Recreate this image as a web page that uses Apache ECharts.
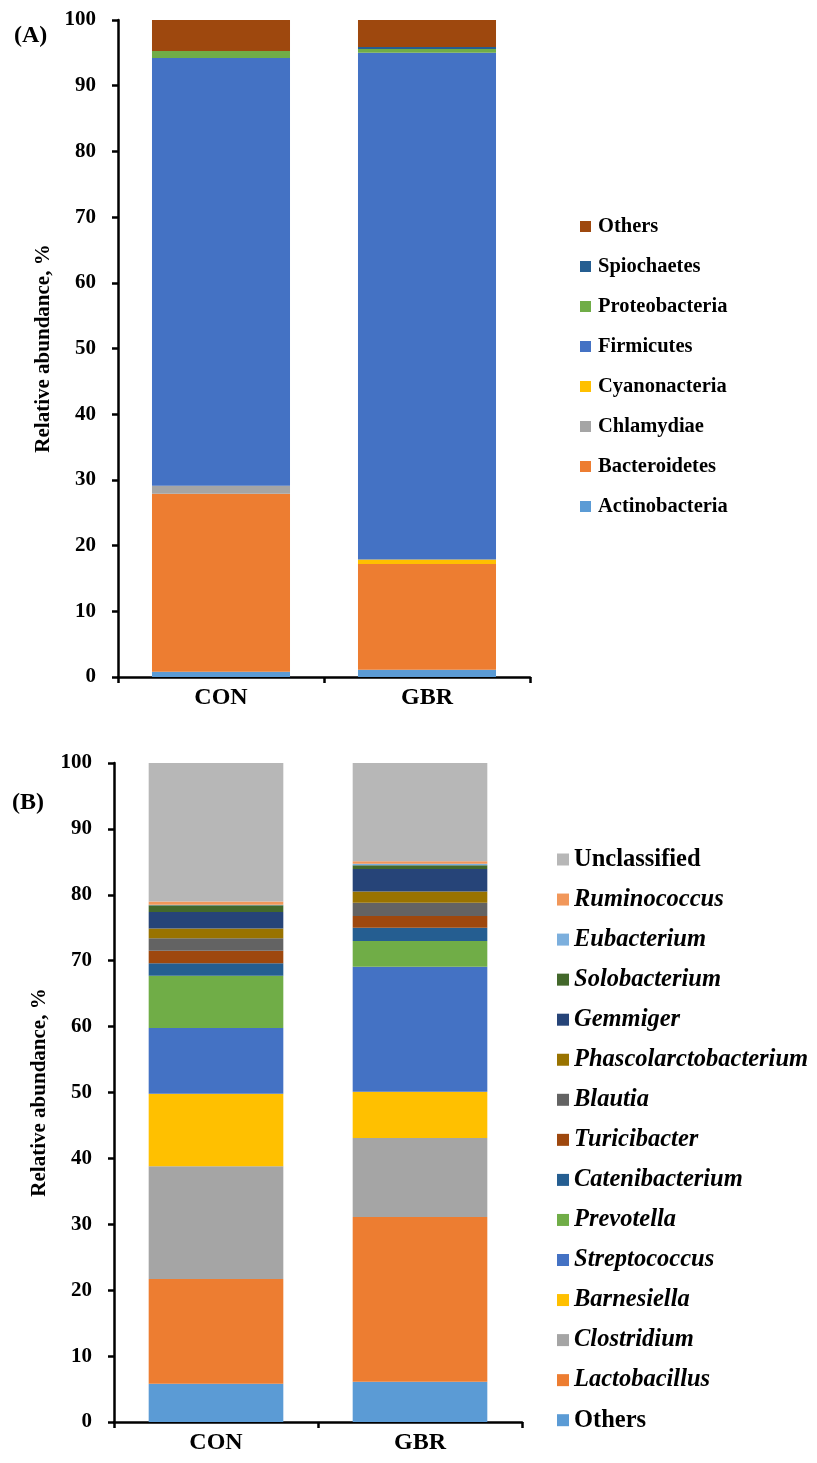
<!DOCTYPE html>
<html>
<head>
<meta charset="utf-8">
<script src="https://cdn.jsdelivr.net/npm/echarts@6/dist/echarts.min.js"></script>
<style>
html,body{margin:0;padding:0;background:#fff;}
#c{width:817px;height:1463px;}
</style>
</head>
<body>
<div id="c"></div>
<script>
// ---------- data ----------
const categories = ['CON', 'GBR'];
const yTicks = [0, 10, 20, 30, 40, 50, 60, 70, 80, 90, 100];

// Panel A (phylum), bottom-to-top stacking order
const phylumNames = ['Actinobacteria', 'Bacteroidetes', 'Chlamydiae', 'Cyanonacteria', 'Firmicutes', 'Proteobacteria', 'Spiochaetes', 'Others'];
const phylumCON = [0.8, 27.1, 1.2, 0.0, 65.1, 1.1, 0.0, 4.7];
const phylumGBR = [1.1, 16.1, 0.0, 0.7, 77.1, 0.6, 0.3, 4.1];
const phylumColors = ['#5B9BD5', '#ED7D31', '#A5A5A5', '#FFC000', '#4472C4', '#70AD47', '#255E91', '#9E480E'];

// Panel B (genus), bottom-to-top stacking order
const genusNames = ['Others', 'Lactobacillus', 'Clostridium', 'Barnesiella', 'Streptococcus', 'Prevotella', 'Catenibacterium', 'Turicibacter', 'Blautia', 'Phascolarctobacterium', 'Gemmiger', 'Solobacterium', 'Eubacterium', 'Ruminococcus', 'Unclassified'];
const genusItalic = [false, true, true, true, true, true, true, true, true, true, true, true, true, true, false];
const genusCON = [5.8, 15.9, 17.1, 11.0, 10.0, 7.9, 1.9, 1.9, 1.9, 1.5, 2.5, 1.0, 0.1, 0.5, 21.0];
const genusGBR = [6.1, 25.0, 12.0, 7.0, 19.0, 3.9, 2.0, 1.8, 2.0, 1.7, 3.4, 0.6, 0.2, 0.4, 14.9];
const genusColors = ['#5B9BD5', '#ED7D31', '#A5A5A5', '#FFC000', '#4472C4', '#70AD47', '#255E91', '#9E480E', '#636363', '#997300', '#264478', '#43682B', '#7CAFDD', '#F1975A', '#B7B7B7'];

// ---------- chart ----------
const FONT = '"Liberation Serif", "Times New Roman", serif';
const chart = echarts.init(document.getElementById('c'), null, {renderer: 'canvas'});

// bottom panel series names get a suffix space to keep them distinct from panel A
const genusKey = n => n + ' ';

const series = [];
phylumNames.forEach((n, i) => {
  series.push({
    name: n, type: 'bar', stack: 'A', xAxisIndex: 0, yAxisIndex: 0,
    barCategoryGap: '33%',
    itemStyle: {color: phylumColors[i]},
    data: [phylumCON[i], phylumGBR[i]]
  });
});
genusNames.forEach((n, i) => {
  series.push({
    name: genusKey(n), type: 'bar', stack: 'B', xAxisIndex: 1, yAxisIndex: 1,
    barCategoryGap: '34%',
    itemStyle: {color: genusColors[i]},
    data: [genusCON[i], genusGBR[i]]
  });
});

const axisLineStyle = {color: '#000', width: 2.5};
function yAxis(gridIndex) {
  return {
    type: 'value', gridIndex, min: 0, max: 100, interval: 10,
    name: 'Relative abundance, %', nameLocation: 'middle', nameGap: 64,
    nameTextStyle: {fontFamily: FONT, fontWeight: 'bold', fontSize: 21, color: '#000'},
    axisLine: {show: true, lineStyle: axisLineStyle},
    axisTick: {show: true, length: 6, lineStyle: axisLineStyle},
    axisLabel: {fontFamily: FONT, fontWeight: 'bold', fontSize: 21, color: '#000', margin: 22,
      formatter: v => yTicks.indexOf(v) >= 0 ? String(v) : ''},
    splitLine: {show: false}
  };
}
function xAxis(gridIndex) {
  return {
    type: 'category', gridIndex, data: categories,
    axisLine: {show: true, lineStyle: axisLineStyle},
    axisTick: {show: true, length: 6, lineStyle: axisLineStyle},
    axisLabel: {fontFamily: FONT, fontWeight: 'bold', fontSize: 24, color: '#000', margin: 9}
  };
}

const option = {
  animation: false,
  backgroundColor: '#fff',
  title: [
    {text: '(A)', left: 9, top: 19, textStyle: {fontFamily: FONT, fontWeight: 'bold', fontSize: 24, color: '#000'}},
    {text: '(B)', left: 7, top: 786, textStyle: {fontFamily: FONT, fontWeight: 'bold', fontSize: 24, color: '#000'}}
  ],
  grid: [
    {left: 118, right: 287, top: 20, height: 657},
    {left: 114, right: 295, top: 763, height: 659}
  ],
  xAxis: [xAxis(0), xAxis(1)],
  yAxis: [yAxis(0), yAxis(1)],
  legend: [
    {
      orient: 'vertical', left: 575, top: 211,
      itemWidth: 11, itemHeight: 11, itemGap: 19, icon: 'rect',
      selectedMode: false,
      data: phylumNames.slice().reverse(),
      textStyle: {fontFamily: FONT, fontWeight: 'bold', fontSize: 20.5, color: '#000', lineHeight: 20, padding: [0, 0, 0, 2]}
    },
    {
      orient: 'vertical', left: 552, top: 842, height: 620,
      itemWidth: 12, itemHeight: 12, itemGap: 15.05, icon: 'rect',
      selectedMode: false,
      data: genusNames.slice().reverse().map(genusKey),
      formatter: name => {
        const n = name.trim();
        const it = genusItalic[genusNames.indexOf(n)];
        return '{' + (it ? 'i' : 'n') + '|' + n + '}';
      },
      textStyle: {
        fontFamily: FONT, fontWeight: 'bold', fontSize: 23, color: '#000', lineHeight: 20,
        rich: {
          i: {fontFamily: FONT, fontWeight: 'bold', fontStyle: 'italic', fontSize: 24.5, color: '#000', lineHeight: 20},
          n: {fontFamily: FONT, fontWeight: 'bold', fontSize: 24.5, color: '#000', lineHeight: 20}
        }
      }
    }
  ],
  series
};
chart.setOption(option);
</script>
</body>
</html>
